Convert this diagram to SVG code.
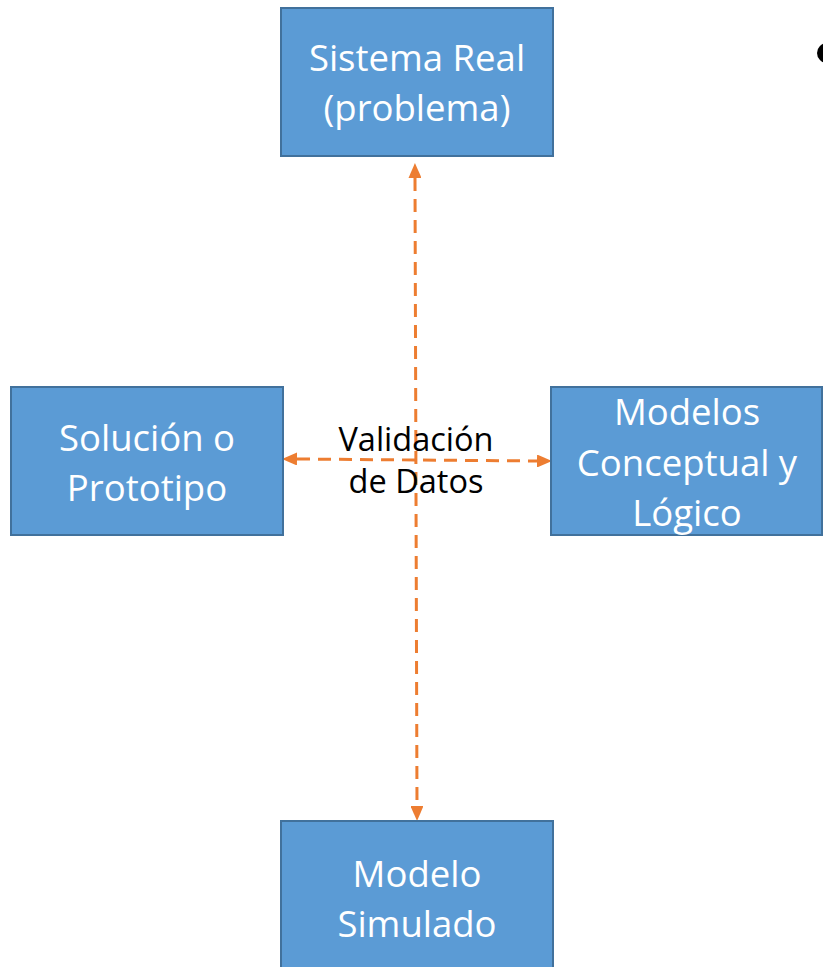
<svg xmlns="http://www.w3.org/2000/svg" width="823" height="967" viewBox="0 0 823 967">
  <style>
    .box { fill: #5B9BD5; stroke: #41719C; stroke-width: 2; }
    .box-label { fill: #FFFFFF; font-family: "Open Sans", "Liberation Sans", sans-serif; font-size: 36.5px; text-anchor: middle; }
    .link { fill: none; stroke: #ED7D31; stroke-width: 3; stroke-dasharray: 13 8; }
    .link-label { fill: #000000; font-family: "Open Sans", "Liberation Sans", sans-serif; font-size: 32.5px; text-anchor: middle; }
  </style>
  <defs>
    <marker id="head" viewBox="0 0 15 13" refX="0" refY="6.5" markerWidth="15" markerHeight="13" markerUnits="userSpaceOnUse" orient="auto-start-reverse">
      <path d="M0,0 L15,6.5 L0,13 Z" fill="#ED7D31"/>
    </marker>
  </defs>

  <rect width="823" height="967" fill="#FFFFFF"/>

  <!-- connectors -->
  <g id="connectors">
    <path class="link" d="M415,178 L417,806" marker-start="url(#head)" marker-end="url(#head)"/>
    <path class="link" d="M297,459 L537,461" marker-start="url(#head)" marker-end="url(#head)"/>
    <text class="link-label" x="416" y="451">Validación</text>
    <text class="link-label" x="416" y="493">de Datos</text>
  </g>

  <g id="sistema-real">
    <rect class="box" x="281" y="8" width="272" height="148"/>
    <text class="box-label" x="417" y="71">Sistema Real</text>
    <text class="box-label" x="417" y="121">(problema)</text>
  </g>

  <g id="solucion-prototipo">
    <rect class="box" x="11" y="387" width="272" height="148"/>
    <text class="box-label" x="147" y="451">Solución o</text>
    <text class="box-label" x="147" y="501">Prototipo</text>
  </g>

  <g id="modelos-conceptual-logico">
    <rect class="box" x="551" y="387" width="271" height="148"/>
    <text class="box-label" x="687" y="425">Modelos</text>
    <text class="box-label" x="687" y="476">Conceptual y</text>
    <text class="box-label" x="687" y="526">Lógico</text>
  </g>

  <g id="modelo-simulado">
    <rect class="box" x="281" y="821" width="272" height="160"/>
    <text class="box-label" x="417" y="887">Modelo</text>
    <text class="box-label" x="417" y="937">Simulado</text>
  </g>

  <!-- bullet at the right edge -->
  <circle cx="827" cy="53" r="10" fill="#000000"/>
</svg>
